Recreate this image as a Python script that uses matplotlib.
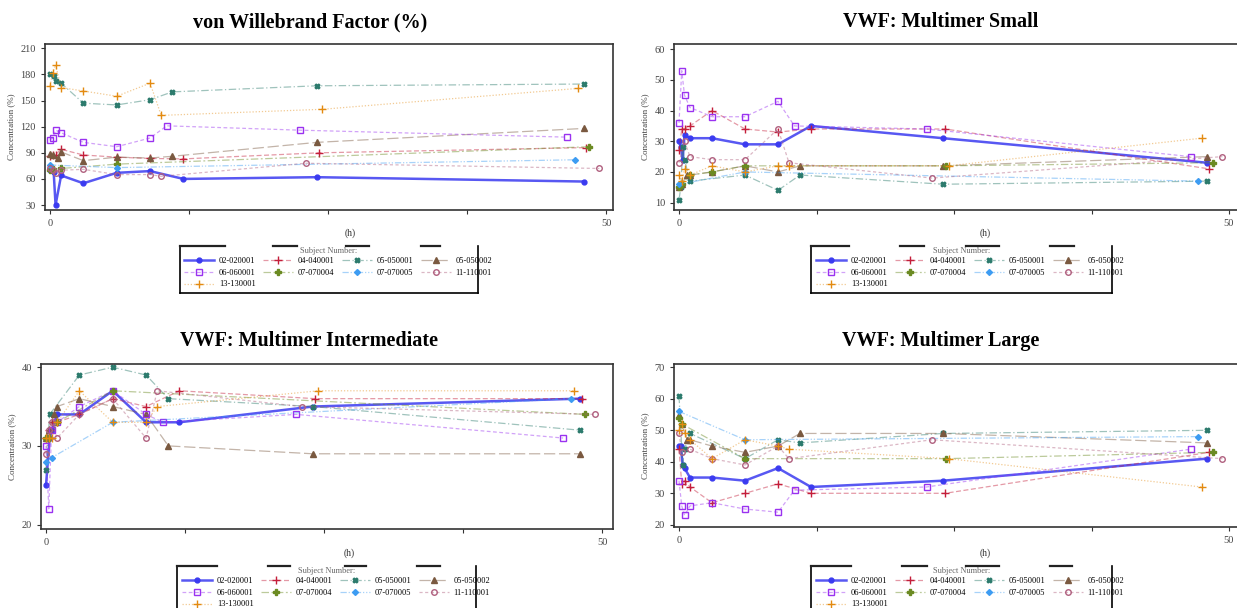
import numpy as np
import matplotlib
matplotlib.use("Agg")
import matplotlib.pyplot as plt
from matplotlib.colors import to_rgba
from matplotlib.lines import Line2D

plt.rcParams['font.family'] = ['Liberation Serif', 'DejaVu Serif']

W, H = 1237, 608

subjects = ['02-020001', '04-040001', '05-050001', '05-050002', '06-060001',
            '07-070004', '07-070005', '11-110001', '13-130001']

# sampling times (h) for each subject
t_02 = [0, 0.17, 0.33, 0.5, 1, 3, 6, 9, 12, 24, 48]
t_04 = [0, 0.25, 0.5, 1, 3, 6, 9, 12, 24.2, 48.2]
t_0501 = [0, 0.17, 0.33, 0.5, 1, 3, 6, 9, 11, 24, 48]
t_0502 = [0, 0.25, 0.5, 0.75, 1, 3, 6, 9, 11, 24, 48]
t_06 = [0, 0.25, 0.5, 1, 3, 6, 9, 10.5, 22.5, 46.5]
t_0704 = [0, 0.25, 0.5, 1, 3, 6, 9, 12, 24.3, 48.5]
t_0705 = [0, 0.25, 0.5, 1, 3, 6, 9, 12, 24, 47.2]
t_11 = [0, 0.25, 0.5, 1, 3, 6, 9, 10, 23, 49.4]
t_13 = [0, 0.25, 0.5, 1, 3, 6, 9, 10, 24.5, 47.5]

# von Willebrand Factor (%)
vwf_02 = [70, None, 68, 30, 64, 55, 67, 69, 60, 62, 57]
vwf_04 = [86, 88, 88, 94, 87.5, 85, 83.5, 83, 90, 96]
vwf_0501 = [181, None, 178, 173, 170, 147, 145, 151, 160, 167, 169]
vwf_0502 = [89, 88, None, 84, 91, 81, 85, 84, 86, 102, 118]
vwf_06 = [105, 107, 116, 113, 102, 97, 107, 121, 116, 108]
vwf_0704 = [70, 71, None, 72, None, 77, None, None, None, 97]
vwf_0705 = [76, None, None, None, None, 73, None, None, None, 82]
vwf_11 = [72, 70, 67, 70, 71, 65, 65, 63, 78, 72]
vwf_13 = [167, 182, 191, 165, 161, 155, 170, 133, 140, 164]

# VWF: Multimer Small
small_02 = [30, 28, 24, 32, 31, 31, 29, 29, 35, 31, 23]
small_04 = [27, 34, 34, 35, 40, 34, 33, 34, 34, 21]
small_0501 = [11, 15, 28, 24, 17, None, 19, 14, 19, 16, 17]
small_0502 = [15, 16, None, 19, 19, 20, 22, 20, 22, 22, 25]
small_06 = [36, 53, 45, 41, 38, 38, 43, 35, 34, 25]
small_0704 = [15, 16, None, 19, 20, 22, None, None, 22, 23]
small_0705 = [16, None, None, None, None, 20, None, None, None, 17]
small_11 = [23, None, 30, 25, 24, 24, 34, 23, 18, 25]
small_13 = [19, 17, 21, 19, 22, 20, 22, 22, 22, 31]

# VWF: Multimer Intermediate
inter_02 = [25, None, 31, 32, 34, 34, 37, 33, 33, 35, 36]
inter_04 = [31, 32, 33, 33, 34, 36, 35, 37, 36, 36]
inter_0501 = [27, None, 34, None, None, 39, 40, 39, 36, 35, 32]
inter_0502 = [31, 32, None, 34, 35, 36, 35, 34, 30, 29, 29]
inter_06 = [30, 22, 32, 33, 35, 37, 34, 33, 34, 31]
inter_0704 = [31, 31, None, 33, None, 37, None, None, None, 34]
inter_0705 = [28, None, 28.5, None, None, 33, None, None, None, 36]
inter_11 = [29, 32, 33, 31, 34, 36, 31, 37, 35, 34]
inter_13 = [31, 31, 31, 33, 37, 33, 33, 35, 37, 37]

# VWF: Multimer Large
large_02 = [45, 45, 39, 38, 35, 35, 34, 38, 32, 34, 41]
large_04 = [44, 33, 34, 32, 27, 30, 33, 30, 30, 43]
large_0501 = [61, None, 39, 44, 49, None, 41, 47, 46, 49, 50]
large_0502 = [55, 52, None, 47, 47, 45, 43, 45, 49, 49, 46]
large_06 = [34, 26, 23, 26, 27, 25, 24, 31, 32, 44]
large_0704 = [54, 52, None, None, None, 41, None, None, 41, 43]
large_0705 = [56, None, None, None, None, 47, None, None, None, 48]
large_11 = [49, 43, None, 44, 41, 39, 45, 41, 47, 41]
large_13 = [50, 52, 49, 47, 41, 47, 45, 44, 41, 32]

times = [t_02, t_04, t_0501, t_0502, t_06, t_0704, t_0705, t_11, t_13]
vwf = [vwf_02, vwf_04, vwf_0501, vwf_0502, vwf_06, vwf_0704, vwf_0705, vwf_11, vwf_13]
small = [small_02, small_04, small_0501, small_0502, small_06, small_0704, small_0705, small_11, small_13]
inter = [inter_02, inter_04, inter_0501, inter_0502, inter_06, inter_0704, inter_0705, inter_11, inter_13]
large = [large_02, large_04, large_0501, large_0502, large_06, large_0704, large_0705, large_11, large_13]

colors = ['#3b3bf0', '#c41e3a', '#2b7a6c', '#7a5940', '#9a32f0', '#6b8a22', '#3d9cf2', '#b0607f', '#e38a10']
markers = ['o', '+', 'X', '^', 's', 'P', 'D', 'o', '+']
msize = [3.5, 5.5, 3.5, 4.5, 4.5, 4, 3, 4, 5.5]
filled = [True, True, True, True, False, True, True, False, True]
dash = [None, (4, 2), (6, 2, 1, 2), (9, 3), (3, 2), (6, 2, 1.5, 2), (5, 1.5, 1, 1.5, 1, 1.5), (2.5, 2), (1, 1.5)]


def px(x, y):
    return x / W, 1 - y / H


def style(k):
    c = colors[k]
    if k == 0:
        kw = dict(color=to_rgba(c, 0.85), lw=1.8)
    else:
        kw = dict(color=to_rgba(c, 0.45), lw=0.9, dashes=dash[k])
    kw.update(marker=markers[k], ms=msize[k], mec=c,
              mfc=c if filled[k] else 'none', mew=1.0)
    return kw


fig = plt.figure(figsize=(W / 100, H / 100), dpi=100)

panels = [
    # data, axes box (l, t, r, b) px, x-zero px, px per hour, ylim, yticks, title, title pos,
    # legend anchor, legend box, legend top segments, "(h)" pos
    (vwf, (45, 44, 613, 210), 50, 11.12, (24.3, 215), range(30, 211, 30),
     'von Willebrand Factor (%)', 310, 22, (184, 257), (180, 478, 246, 293),
     [(180, 225), (273, 297), (346, 369), (421, 440)], 350, 233),
    (small, (674, 44, 1239, 210), 679, 11.0, (7.6, 61.7), range(10, 61, 10),
     'VWF: Multimer Small', 941, 22, (816, 257), (811, 1112, 246, 293),
     [(811, 849), (900, 924), (966, 999), (1050, 1074)], 985, 233),
    (inter, (41, 364, 613, 529), 46, 11.12, (19.45, 40.4), range(20, 41, 10),
     'VWF: Multimer Intermediate', 309, 341, (182, 577), (177, 476, 566, 612),
     [(177, 217), (268, 290), (345, 366), (417, 440)], 349, 553),
    (large, (674, 364, 1239, 527), 679, 11.0, (19.3, 71.05), range(20, 71, 10),
     'VWF: Multimer Large', 941, 341, (816, 577), (811, 1112, 566, 612),
     [(811, 851), (902, 927), (966, 999), (1050, 1072)], 985, 553),
]

order = [0, 4, 8, 1, 5, 2, 6, 3, 7]

for (data, box, x0, scale, ylim, yticks, title, tx, ty, lpos, lbox, segs, hx, hy) in panels:
    l, t, r, b = box
    ax = fig.add_axes([l / W, 1 - b / H, (r - l) / W, (b - t) / H])
    ax.set_xlim(-(x0 - l) / scale, (r - x0) / scale)
    ax.set_ylim(*ylim)
    for k in range(len(subjects)):
        tt = np.array(times[k], dtype=float)
        yy = np.array(data[k], dtype=float)
        ok = ~np.isnan(yy)
        ax.plot(tt[ok], yy[ok], **style(k))
    ax.set_xticks([0, 12.5, 25, 37.5, 50])
    ax.set_xticklabels(['0', '', '', '', '50'])
    ax.set_yticks(list(yticks))
    ax.tick_params(labelsize=7.5, labelcolor='#444444', length=3, width=0.8, color='#333333')
    for s in ax.spines.values():
        s.set_color('#333333')
        s.set_linewidth(1.2)
    ax.set_ylabel('Concentration (%)', fontsize=6.5, color='#444444', labelpad=4)

    fig.text(*px(tx, ty), title, ha='center', va='center', fontsize=14.5, fontweight='bold')
    fig.text(*px(hx, hy), '(h)', ha='center', va='center', fontsize=7, color='#333333')

    handles = [Line2D([], [], **style(k)) for k in order]
    labels = [subjects[k] for k in order]
    fig.legend(handles, labels, ncol=4, loc='upper left',
               bbox_to_anchor=px(*lpos), bbox_transform=fig.transFigure,
               frameon=False, fontsize=6, handlelength=3.6, handletextpad=0.6,
               columnspacing=0.85, labelspacing=0.45, borderpad=0, borderaxespad=0)
    bl, br, bt, bb = lbox
    fig.text(*px((bl + br) / 2, bt + 5), 'Subject Number:', ha='center', va='center',
             fontsize=6, color='#666666')
    for xa, ya, xb, yb in [(bl, bt, bl, bb), (br, bt, br, bb), (bl, bb, br, bb)]:
        fig.add_artist(Line2D([xa / W, xb / W], [1 - ya / H, 1 - yb / H],
                              transform=fig.transFigure, color='black', lw=1.2))
    for xa, xb in segs:
        fig.add_artist(Line2D([xa / W, xb / W], [1 - bt / H, 1 - bt / H],
                              transform=fig.transFigure, color='#222222', lw=1.6))

fig.savefig('out.png', dpi=100)
